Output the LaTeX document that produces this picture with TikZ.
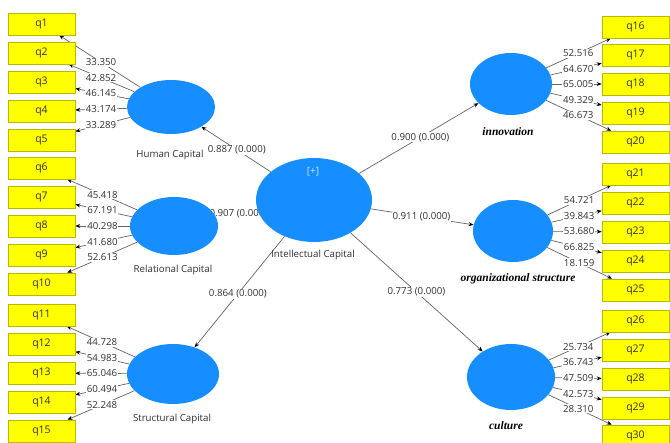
\documentclass[tikz,border=0pt]{standalone}
\usepackage{fontspec}
\setmainfont{Open Sans}
\newfontfamily\serifbi{Liberation Serif}
\usetikzlibrary{arrows.meta,calc,shapes.geometric}
\pgfdeclarelayer{bg}
\pgfdeclarelayer{back}
\pgfsetlayers{bg,back,main}
\definecolor{lvc}{RGB}{22,142,255}
\definecolor{boxy}{RGB}{255,255,0}
\definecolor{boxb}{RGB}{185,185,0}
\definecolor{txt}{RGB}{50,50,50}
\definecolor{lnc}{RGB}{100,100,100}
\definecolor{plusc}{RGB}{200,225,255}
\begin{document}
\begin{tikzpicture}[x=1pt,y=-1pt,
  ind/.style={draw=boxb, fill=boxy, minimum width=67pt, minimum height=22pt, inner sep=0pt,
    font=\fontsize{10.5}{12}\selectfont, text=txt, line width=0.6pt},
  lat/.style={ellipse, fill=lvc, draw=none, inner sep=0pt},
  conn/.style={draw=lnc, line width=0.7pt, -{Stealth[length=5pt,width=4pt,color=black]}},
  val/.style={fill=white, inner sep=0.8pt, font=\fontsize{9.7}{11}\selectfont, text=txt},
  lname/.style={font=\fontsize{9.7}{11}\selectfont, text=txt, inner sep=0pt},
  iname/.style={font=\serifbi\bfseries\itshape\fontsize{11.5}{13}\selectfont, text=black, inner sep=0pt}]
\useasboundingbox (0,0) rectangle (670,443);
\begin{pgfonlayer}{bg}
\fill[white] (0,0) rectangle (670,443);
\end{pgfonlayer}

% latent variables
\node[lat, minimum width=88pt, minimum height=54pt] (HC) at (171,107) {};
\node[lat, minimum width=88pt, minimum height=58pt] (RC) at (174,226) {};
\node[lat, minimum width=92pt, minimum height=60pt] (SC) at (173,374) {};
\node[lat, minimum width=116pt, minimum height=84pt] (IC) at (314,200) {};
\node[lat, minimum width=82pt, minimum height=62pt] (INN) at (511,84) {};
\node[lat, minimum width=80pt, minimum height=62pt] (OS) at (513,231) {};
\node[lat, minimum width=88pt, minimum height=66pt] (CU) at (511,377) {};
\node[text=plusc, font=\fontsize{10}{12}\selectfont, inner sep=0pt] (plus) at (313,172) {[+]};

% latent names
\node[lname] (nHC) at (170,155) {Human Capital};
\node[lname] (nRC) at (173,270) {Relational Capital};
\node[lname] (nSC) at (172,419) {Structural Capital};
\node[lname] (nIC) at (313,255) {Intellectual Capital};
\node[iname] (nINN) at (508,132) {innovation};
\node[iname] (nOS) at (518,279) {organizational structure};
\node[iname] (nCU) at (506,426) {culture};

% indicators left
\foreach \n/\y in {1/24,2/53,3/82,4/111,5/140,6/168,7/197,8/226,9/255,10/284,11/315,12/344,13/373,14/402,15/431}
  \node[ind] (q\n) at (41.5,\y) {q\n};
% indicators right
\foreach \n/\y in {16/27,17/55.5,18/84,19/113,20/142,21/174,22/203,23/232,24/261,25/290,26/321,27/350,28/379,29/408,30/436}
  \node[ind] (q\n) at (635.5,\y) {q\n};

\begin{pgfonlayer}{back}
\foreach \l/\q in {HC/1,HC/2,HC/3,HC/4,HC/5,RC/6,RC/7,RC/8,RC/9,RC/10,SC/11,SC/12,SC/13,SC/14,SC/15,
  INN/16,INN/17,INN/18,INN/19,INN/20,OS/21,OS/22,OS/23,OS/24,OS/25,CU/26,CU/27,CU/28,CU/29,CU/30}
  \draw[conn] (\l) -- (q\q);
\foreach \l in {HC,RC,SC,INN,OS,CU}
  \draw[conn] (IC) -- (\l);
\foreach \l/\q/\v in {HC/1/33.350,HC/2/42.852,HC/3/46.145,HC/4/43.174,HC/5/33.289,
  RC/6/45.418,RC/7/67.191,RC/8/40.298,RC/9/41.680,RC/10/52.613,
  SC/11/44.728,SC/12/54.983,SC/13/65.046,SC/14/60.494,SC/15/52.248,
  INN/16/52.516,INN/17/64.670,INN/18/65.005,INN/19/49.329,INN/20/46.673,
  OS/21/54.721,OS/22/39.843,OS/23/53.680,OS/24/66.825,OS/25/18.159,
  CU/26/25.734,CU/27/36.743,CU/28/47.509,CU/29/42.573,CU/30/28.310}
  \node[val] (v\q) at ($(\l.center)!0.54!(q\q.center)$) {\v};
\foreach \l/\v/\f in {HC/0.887/0.54,RC/0.907/0.54,SC/0.864/0.54,INN/0.900/0.54,OS/0.911/0.54,CU/0.773/0.52}
  \node[val] (p\l) at ($(IC.center)!\f!(\l.center)$) {\v{} (0.000)};
\end{pgfonlayer}
\end{tikzpicture}
\end{document}
